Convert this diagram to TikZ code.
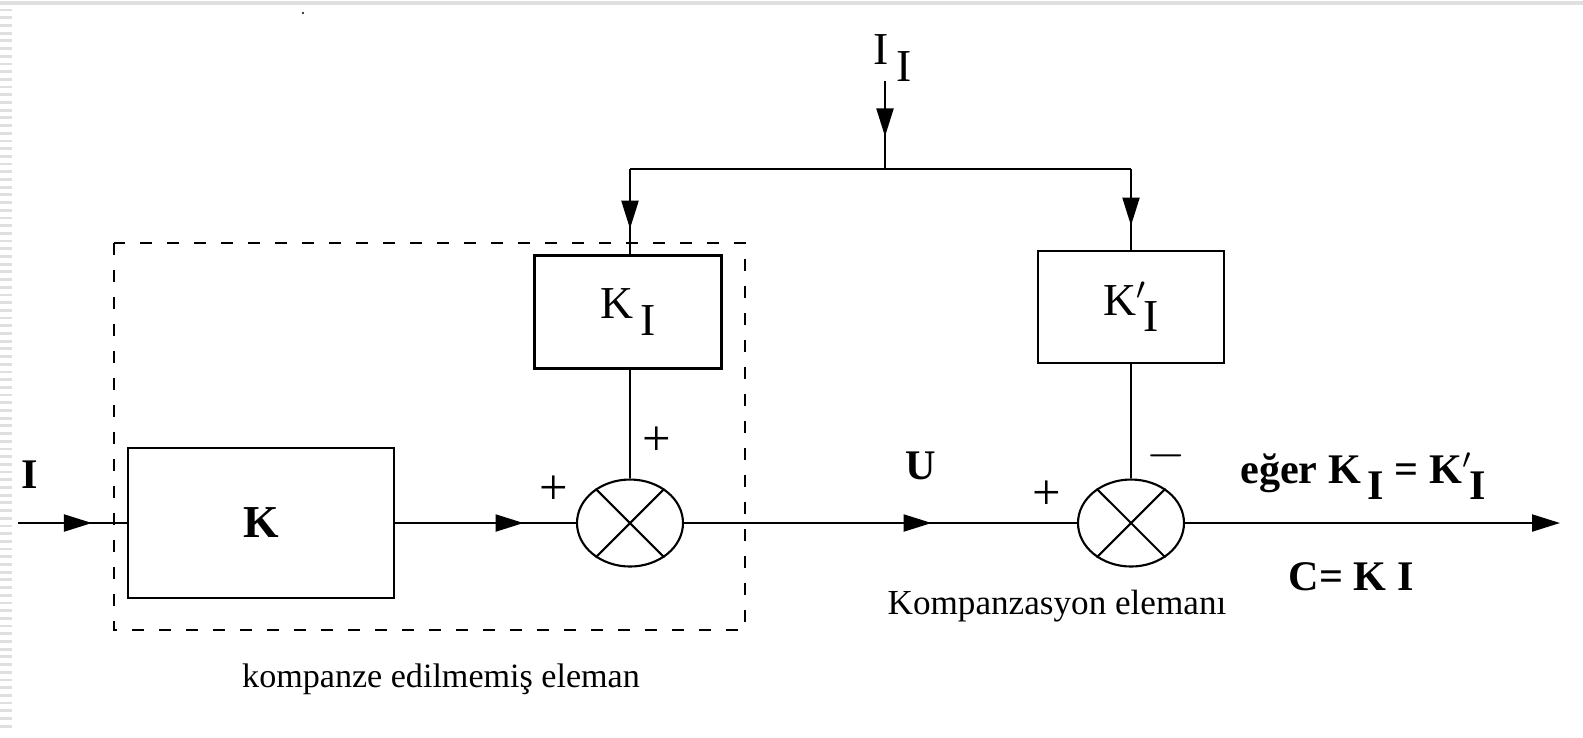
\documentclass[tikz,border=0pt]{standalone}
\usepackage{fontspec}
\setmainfont{Liberation Serif}
\usetikzlibrary{arrows.meta,positioning,shapes.geometric,decorations.markings}
\newcommand{\sbI}{\,\raisebox{-0.8ex}{I}}
\tikzset{
  tipA/.tip={Triangle[length=2.8mm,width=1.7mm]},
  midarr/.style={postaction={decorate},
    decoration={markings,mark=at position #1 with {\arrow{tipA}}}}}

\begin{document}
\begin{tikzpicture}[x=0.1mm,y=-0.1mm,line width=0.6pt,
  blk/.style={draw,line width=0.7pt,inner sep=0pt,font=\fontsize{13}{15}\selectfont},
  summ/.style={draw,ellipse,minimum width=10.6mm,minimum height=8.7mm,inner sep=0pt},
  pm/.style={font=\Large,inner sep=0pt},
  lbl/.style={font=\bfseries\large,inner sep=0pt}]
  \useasboundingbox (0,0) rectangle (1583,737);
  % screen edge
  \draw[gray!25,line width=1pt] (0,3) -- (1583,3);
  \foreach \yy in {10,17.7,...,730} \draw[gray!25,line width=0.8pt] (0,\yy) -- (12,\yy);
  \fill (303,13) circle (1.2);
  % uncompensated part
  \draw[dashed,dash pattern=on 1.2mm off 1.5mm] (114,243) rectangle (745,630);
  \node[blk,minimum width=26.6mm,minimum height=15mm,font=\bfseries\fontsize{13}{15}\selectfont] (K) at (261,523) {K};
  \node[summ] (s1) at (630,523) {};
  \draw (s1.45) -- (s1.-135) (s1.135) -- (s1.-45);
  \node[blk,minimum width=18.7mm,minimum height=11.3mm] (KI) at (628,312) {K\sbI};
  % compensation part
  \node[blk,minimum width=18.6mm,minimum height=11.2mm] (KIp) at (1131,307) {K\rlap{$'$}\sbI};
  \node[summ] (s2) at (1131,523) {};
  \draw (s2.45) -- (s2.-135) (s2.135) -- (s2.-45);
  \coordinate (in) at (18,523);
  \coordinate (out) at (1560,523);
  \coordinate (top) at (885,81);
  \coordinate (split) at (885,169);
  % signal path
  \draw[midarr=0.68] (in) -- (K.west);
  \draw[midarr=0.71] (K.east) -- (s1.west);
  \draw[midarr=0.63] (s1.east) -- (s2.west);
  \draw[-tipA] (s2.east) -- (out);
  \draw (KI.south -| s1.north) -- (s1.north);
  \draw (KIp.south) -- (s2.north);
  \draw[midarr=0.63] (top) -- (split);
  \draw (split -| s1.north) -- (split -| KIp.north);
  \draw[midarr=0.7] (split -| s1.north) -- (KI.north -| s1.north);
  \draw[midarr=0.7] (split -| KIp.north) -- (KIp.north);
  % labels
  \node[lbl] (lblI) at (30,475) {I};
  \node[font=\fontsize{13}{15}\selectfont,inner sep=0pt] (lblII) at (893,58) {I\sbI};
  \node[lbl] (lblU) at (921,466) {U};
  \node[pm] at (554,490) {+};
  \node[pm] at (657,441) {+};
  \node[pm] at (1047,495) {+};
  \node[pm] at (1166,456) {$-$};
  \node[lbl] (cond) at (1363,476) {eğer K\sbI{} = K\rlap{$'$}\sbI};
  \node[lbl] (ceq) at (1351,577) {C= K I};
  \node[inner sep=0pt] (comp) at (1057,606) {Kompanzasyon elemanı};
  \node[inner sep=0pt,font=\fontsize{9.7}{11}\selectfont] (unc) at (441,679) {kompanze edilmemiş eleman};
\end{tikzpicture}
\end{document}
